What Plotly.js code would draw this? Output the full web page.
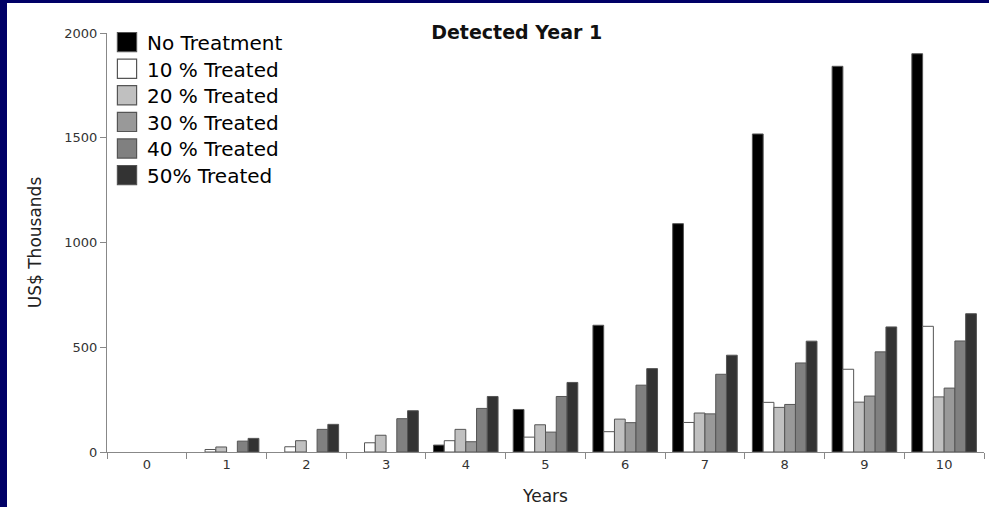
<!DOCTYPE html>
<html>
<head>
<meta charset="utf-8">
<script src="https://cdn.plot.ly/plotly-3.0.1.min.js"></script>
<style>
  html, body { margin: 0; padding: 0; background: #000066; width: 989px; height: 507px; overflow: hidden; }
  #chart { position: absolute; left: 7px; top: 3px; width: 982px; height: 504px; background: #ffffff; }
</style>
</head>
<body>
<div id="chart"></div>
<script>
const years = ["0","1","2","3","4","5","6","7","8","9","10"];
const seriesNames = ["No Treatment","10 % Treated","20 % Treated","30 % Treated","40 % Treated","50% Treated"];
const noTreatment = [0, 0, 0, 0, 33, 203, 605, 1090, 1518, 1841, 1901];
const treated10   = [0, 12, 25, 44, 54, 71, 97, 141, 237, 395, 600];
const treated20   = [0, 24, 54, 80, 108, 130, 157, 186, 213, 238, 263];
const treated30   = [0, 0, 0, 0, 49, 95, 140, 182, 227, 267, 305];
const treated40   = [0, 52, 108, 159, 208, 265, 319, 371, 425, 478, 530];
const treated50   = [0, 65, 132, 197, 265, 332, 398, 462, 529, 597, 660];
const yTicks = [0, 500, 1000, 1500, 2000];

const seriesValues = [noTreatment, treated10, treated20, treated30, treated40, treated50];
const colors = ["#000000", "#ffffff", "#c0c0c0", "#999999", "#808080", "#333333"];

const traces = seriesValues.map((vals, i) => ({
  type: "bar",
  name: seriesNames[i],
  x: years,
  y: vals,
  marker: {
    color: colors[i],
    line: { color: "#555555", width: vals.map(v => (v > 0 ? 1 : 0)) }
  },
  hoverinfo: "x+y+name"
}));

const layout = {
  width: 982,
  height: 504,
  paper_bgcolor: "#ffffff",
  plot_bgcolor: "#ffffff",
  font: { family: "DejaVu Sans", color: "#000000" },
  margin: { l: 100, r: 5, t: 30, b: 55 },
  barmode: "group",
  bargap: 0.19,
  bargroupgap: 0,
  title: {
    text: "<b>Detected Year 1</b>",
    font: { family: "DejaVu Sans", size: 19, color: "#111111" },
    x: 0.519, xref: "container", xanchor: "center",
    y: 0.942, yref: "container", yanchor: "middle"
  },
  xaxis: {
    type: "category",
    range: [-0.5, 10.5],
    showline: true, linecolor: "#888888", linewidth: 1,
    ticks: "outside", tickson: "boundaries", ticklen: 6, tickcolor: "#888888",
    tickfont: { family: "DejaVu Sans", size: 13, color: "#333333" },
    showgrid: false, zeroline: false,
    title: { text: "Years", font: { family: "DejaVu Sans", size: 17, color: "#222222" }, standoff: 19 },
    automargin: false,
    fixedrange: true
  },
  yaxis: {
    range: [0, 2000],
    tickvals: yTicks,
    ticktext: yTicks.map(String),
    showline: true, linecolor: "#888888", linewidth: 1,
    ticks: "outside", ticklen: 6, tickcolor: "#888888",
    tickfont: { family: "DejaVu Sans", size: 13, color: "#333333" },
    showgrid: false, zeroline: false,
    title: { text: "US$ Thousands", font: { family: "DejaVu Sans", size: 17, color: "#222222" }, standoff: 18 },
    automargin: false,
    fixedrange: true
  },
  legend: {
    x: 0, y: 1.02, xanchor: "left", yanchor: "top",
    bgcolor: "rgba(255,255,255,0)",
    font: { family: "DejaVu Sans", size: 20, color: "#000000" },
    tracegroupgap: 0
  },
  showlegend: true
};

Plotly.newPlot("chart", traces, layout, { displayModeBar: false, staticPlot: true }).then(gd => {
  gd.querySelectorAll(".legend .legendpoints path").forEach(p => {
    const t = p.getAttribute("transform") || "";
    p.setAttribute("transform", t + " scale(1.6)");
    p.style.stroke = "#555555";
    p.style.strokeWidth = "0.75px";
    p.style.strokeOpacity = "1";
  });
  const items = gd.querySelectorAll(".legend .traces");
  let y0 = null;
  items.forEach((g, i) => {
    const m = /translate\(\s*([-\d.]+)[ ,]+([-\d.]+)\s*\)/.exec(g.getAttribute("transform") || "");
    if (!m) return;
    const x = parseFloat(m[1]);
    if (y0 === null) y0 = parseFloat(m[2]) - 2;
    g.setAttribute("transform", "translate(" + x + "," + (y0 + i * 26.6) + ")");
  });
});
</script>
</body>
</html>
